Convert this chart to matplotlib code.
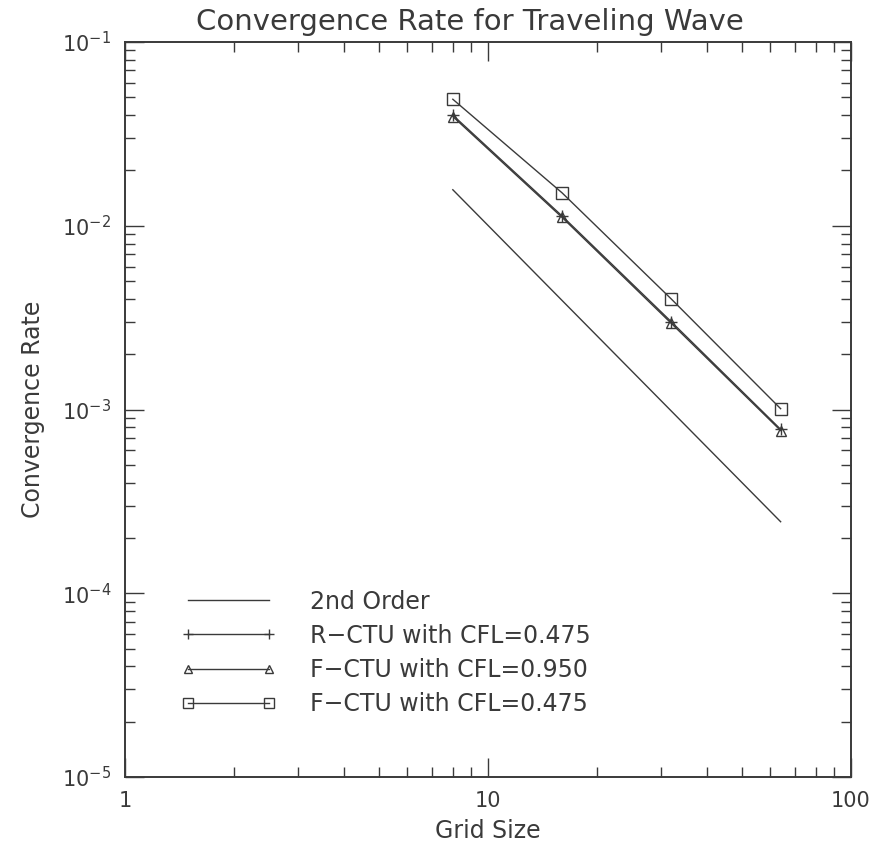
import math
import matplotlib
matplotlib.use("Agg")
import matplotlib.pyplot as plt
from matplotlib.ticker import LogLocator, FuncFormatter, NullFormatter

grid_size = [8, 16, 32, 64]
second_order = [0.0157, 0.00392, 0.00098, 0.000245]
rctu_0475 = [0.0400, 0.0113, 0.00300, 0.000780]
fctu_0950 = [0.0393, 0.0111, 0.00294, 0.000768]
fctu_0475 = [0.0488, 0.0151, 0.00399, 0.00101]

labels = ["2nd Order", "R\u2212CTU with CFL=0.475",
          "F\u2212CTU with CFL=0.950", "F\u2212CTU with CFL=0.475"]

ink = "#3a3a3a"
plt.rcParams["font.family"] = ["DejaVu Sans"]
plt.rcParams["mathtext.fontset"] = "dejavusans"

fig = plt.figure(figsize=(8.75, 8.46), dpi=100)
ax = fig.add_axes([125 / 875, 1 - 777 / 846, 726 / 875, 735 / 846])

ax.plot(grid_size, second_order, color=ink, lw=1.0, label=labels[0])
ax.plot(grid_size, rctu_0475, color=ink, lw=1.0, marker="+", ms=8,
        mew=1.0, label=labels[1])
ax.plot(grid_size, fctu_0950, color=ink, lw=1.0, marker="^", ms=7,
        mfc="none", mew=1.0, label=labels[2])
ax.plot(grid_size, fctu_0475, color=ink, lw=1.0, marker="s", ms=8,
        mfc="none", mew=1.0, label=labels[3])

ax.set_xscale("log")
ax.set_yscale("log")
ax.set_xlim(1, 100)
ax.set_ylim(1e-5, 1e-1)


def pow_fmt(v, pos):
    e = int(round(math.log10(v)))
    return r"$10^{%d}$" % e


ax.xaxis.set_major_locator(LogLocator(base=10, numticks=10))
ax.xaxis.set_minor_locator(LogLocator(base=10, subs=range(2, 10), numticks=20))
ax.xaxis.set_major_formatter(FuncFormatter(lambda v, p: "%g" % v))
ax.xaxis.set_minor_formatter(NullFormatter())
ax.yaxis.set_major_locator(LogLocator(base=10, numticks=10))
ax.yaxis.set_minor_locator(LogLocator(base=10, subs=range(2, 10), numticks=20))
ax.yaxis.set_major_formatter(FuncFormatter(pow_fmt))
ax.yaxis.set_minor_formatter(NullFormatter())

ax.tick_params(which="both", direction="in", top=True, right=True,
               color=ink, width=1.0, labelcolor=ink, labelsize=15)
ax.tick_params(which="major", length=14, pad=10)
ax.tick_params(which="minor", length=7)
for s in ax.spines.values():
    s.set_color(ink)
    s.set_linewidth(1.4)

ax.set_title("Convergence Rate for Traveling Wave", fontsize=21,
             color=ink, pad=9, x=0.475)
ax.set_xlabel("Grid Size", fontsize=17, color=ink, labelpad=6)
ax.set_ylabel("Convergence Rate", fontsize=17, color=ink, labelpad=12)

leg = ax.legend(loc="upper left", bbox_to_anchor=(0.077, 0.255),
                frameon=False, numpoints=2, handlelength=4.03,
                handletextpad=1.44, labelspacing=0.43, fontsize=17,
                markerscale=0.85, borderpad=0, borderaxespad=0)
for t in leg.get_texts():
    t.set_color(ink)

fig.savefig("out.png", dpi=100)
